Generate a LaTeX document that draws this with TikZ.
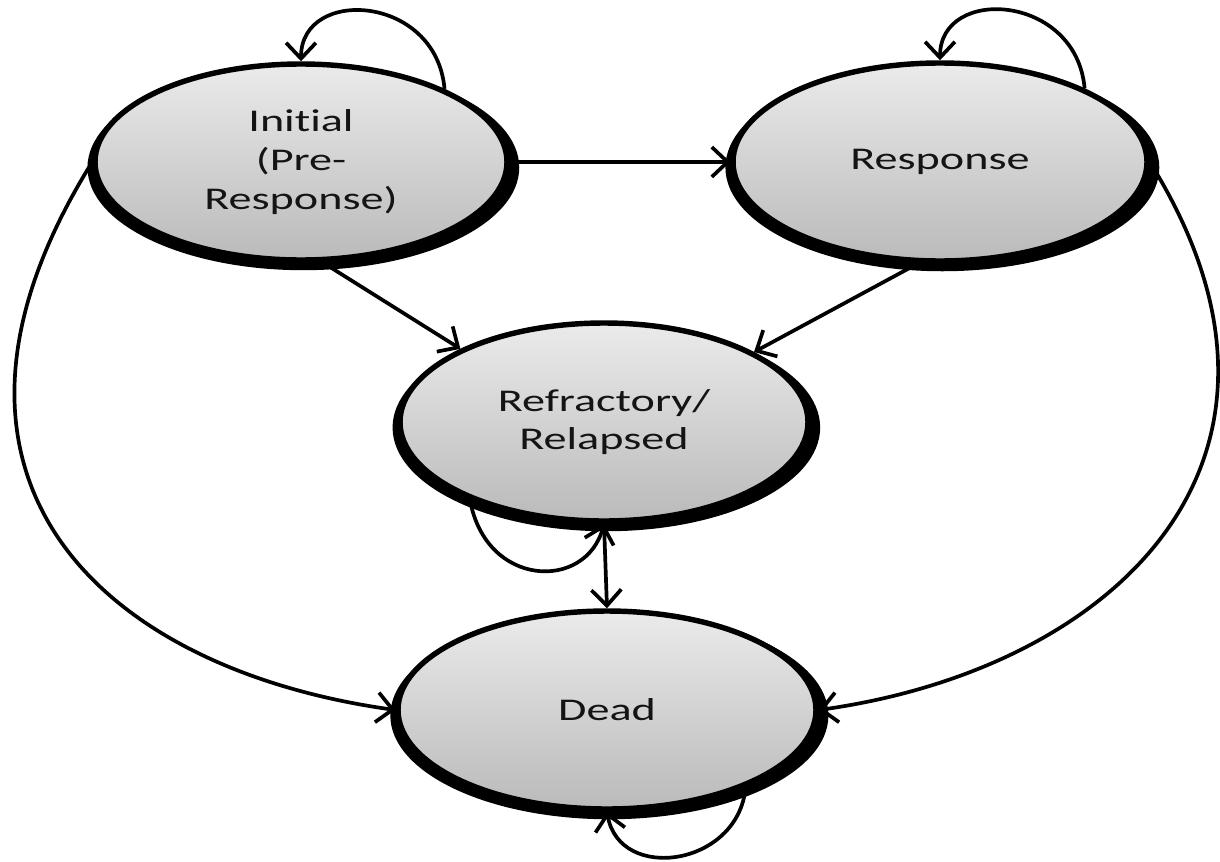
\documentclass[tikz,border=0pt]{standalone}
\usepackage{fontspec}
\setmainfont{Carlito}[FakeStretch=1.46,Ligatures=NoCommon]
\usepackage{tikz}
\usetikzlibrary{arrows.meta,shapes,shadows}
\tikzset{StateNode/.style={shape=ellipse,draw=black,line width=3.1pt,top color=black!8,bottom color=black!27,
		text=black!92,align=center,font=\fontsize{18}{22}\selectfont,inner sep=0pt,
		drop shadow={shadow xshift=0.045cm,shadow yshift=-0.105cm,shadow scale=1.048,fill=black,opacity=1}}}
\tikzset{Flow/.style={line width=2.1pt,-{Straight Barb[length=9pt,width=17pt]}}}

\begin{document}
\begin{tikzpicture}[]
	\useasboundingbox (0,0) rectangle (24.4,17.22);
	\node[StateNode,minimum width=8.24cm,minimum height=3.92cm] (I) at (6.02,13.98) {Initial\\(Pre-\\Response)};
	\node[StateNode,minimum width=8.28cm,minimum height=3.96cm] (R) at (18.8,13.98) {Response};
	\node[StateNode,minimum width=8.16cm,minimum height=3.96cm] (F) at (12.08,8.78) {Refractory/\\Relapsed};
	\node[StateNode,minimum width=8.36cm,minimum height=3.96cm] (D) at (12.14,3.02) {Dead};
	%
	\path[Flow]
	(I.27) edge[out=95,in=90,out distance=1.9cm,in distance=1.5cm] (I.north)
	(R.27) edge[out=95,in=90,out distance=1.9cm,in distance=1.5cm] (R.north)
	(I.east) edge (R.west)
	(I.-78) edge (F.153)
	(R.-102) edge (F.25)
	(F.-150) edge[out=-80,in=-105,out distance=1.8cm,in distance=1.4cm] (F.south)
	(F.south) edge (D.north)
	(D.-29) edge[out=-95,in=-80,out distance=1.6cm,in distance=1.45cm] (D.south)
	(I.west) edge[out=-122,in=172,out distance=7.4cm,in distance=6cm] (D.west)
	(R.east) edge[out=-58,in=8,out distance=7cm,in distance=6cm] (D.east);
\end{tikzpicture}
\end{document}
